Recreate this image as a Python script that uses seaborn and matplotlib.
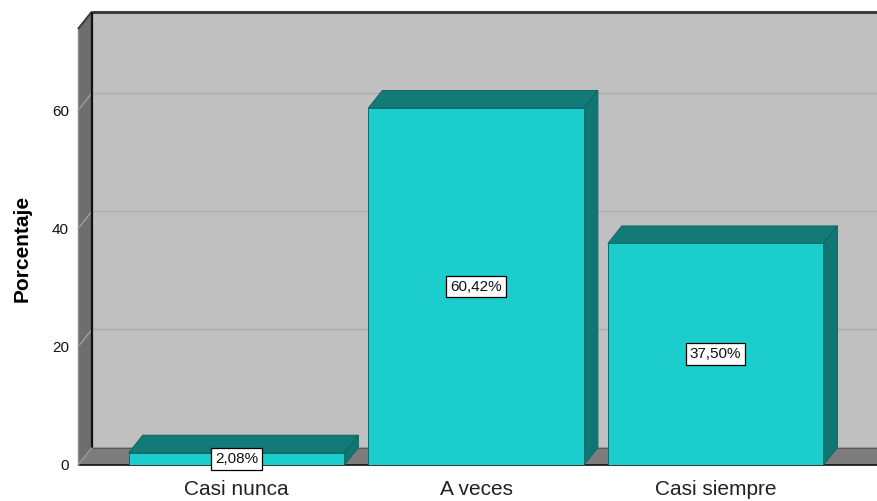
import matplotlib
matplotlib.use("Agg")
import matplotlib.pyplot as plt
import seaborn as sns
import pandas as pd
from matplotlib.patches import Polygon

# Data
categorias = ["Casi nunca", "A veces", "Casi siempre"]
porcentajes = [2.08, 60.42, 37.50]
etiquetas = ["2,08%", "60,42%", "37,50%"]
ticks_y = [0, 20, 40, 60]

sns.set_theme(style="white")
plt.rcParams["font.family"] = ["Liberation Sans", "DejaVu Sans"]

W, H = 877, 501
fig = plt.figure(figsize=(W / 100, H / 100), dpi=100)
ax = fig.add_axes([78 / W, 36 / H, 795 / W, 436 / H])

df = pd.DataFrame({"categoria": categorias, "porcentaje": porcentajes})
sns.barplot(data=df, x="categoria", y="porcentaje", order=categorias,
            color="#1ccdcd", saturation=1, width=0.9, ax=ax,
            edgecolor="#0f6e6c", linewidth=0.7, zorder=4)

x0, x1 = -0.662, 2.657
ymax = 73.8
ax.set_xlim(x0, x1)
ax.set_ylim(0, ymax)
ax.patch.set_visible(False)
for s in ax.spines.values():
    s.set_visible(False)

# depth offset of the 3D effect, converted to data units
DX = 14 * (x1 - x0) / 795
DY = 17.5 * ymax / 436


def poly(pts, fc, ec="none", lw=0, z=1):
    ax.add_patch(Polygon(pts, closed=True, facecolor=fc, edgecolor=ec,
                         linewidth=lw, zorder=z, clip_on=False))


def line(xs, ys, c, lw, z=2):
    ax.plot(xs, ys, color=c, linewidth=lw, zorder=z, clip_on=False,
            solid_capstyle="butt")


# back wall, floor, left wall
poly([(x0 + DX, DY), (x1 + DX + 1, DY), (x1 + DX + 1, ymax + DY),
      (x0 + DX, ymax + DY)], "#c0c0c0", z=0.5)
poly([(x0, 0), (x1 + 1, 0), (x1 + 1 + DX, DY), (x0 + DX, DY)], "#7c7c7c", z=1)
poly([(x0, 0), (x0 + DX, DY), (x0 + DX, ymax + DY), (x0, ymax)], "#6e6e6e", z=1)

# gridlines on the back wall and the left wall
for t in ticks_y[1:]:
    line([x0 + DX, x1 + DX + 1], [t + DY, t + DY], "#adadad", 1.0, z=0.8)
    line([x0, x0 + DX], [t, t + DY], "#a0a0a0", 1.0, z=1.5)

# frame edges
line([x0 + DX, x1 + DX + 1], [ymax + DY, ymax + DY], "#3c3c3c", 2.2)
line([x0, x0 + DX], [ymax, ymax + DY], "#3c3c3c", 1.5)
line([x0 + DX, x0 + DX], [DY, ymax + DY], "#111111", 1.6)
line([x0 + DX, x1 + DX + 1], [DY, DY], "#5a5a5a", 0.8, z=1.2)
line([x0, x0], [0, ymax], "#8a8a8a", 1.0)
line([x0, x0 + DX], [0, DY], "#9a9a9a", 1.0)
line([x0, x1 + 1], [0, 0], "#111111", 1.2, z=1.5)

# top and side faces of each bar
for p in list(ax.patches):
    if not hasattr(p, "get_width") or p.get_zorder() != 4:
        continue
    bx, bw, bh = p.get_x(), p.get_width(), p.get_height()
    poly([(bx, bh), (bx + bw, bh), (bx + bw + DX, bh + DY), (bx + DX, bh + DY)],
         "#127b78", ec="#0e6664", lw=0.7, z=3)
    poly([(bx + bw, 0), (bx + bw + DX, DY), (bx + bw + DX, bh + DY), (bx + bw, bh)],
         "#107674", ec="#0e6664", lw=0.7, z=3)

# value labels
for i, (v, lab) in enumerate(zip(porcentajes, etiquetas)):
    ax.text(i, v / 2, lab, ha="center", va="center", fontsize=11,
            color="#111111", zorder=6,
            bbox=dict(boxstyle="square,pad=0.25", facecolor="white",
                      edgecolor="black", linewidth=0.9))

ax.set_yticks(ticks_y)
ax.set_yticklabels([str(t) for t in ticks_y])
ax.tick_params(axis="y", length=0, pad=6.5, labelsize=11, labelcolor="#111111")
ax.tick_params(axis="x", length=0, pad=11, labelsize=15, labelcolor="#222222")
ax.set_xlabel("")
ax.set_ylabel("")
fig.text(22 / W, 1 - 248 / H, "Porcentaje", rotation=90, ha="center",
         va="center", fontsize=15, fontweight="bold", color="black")

fig.savefig("out.png", dpi=100)
